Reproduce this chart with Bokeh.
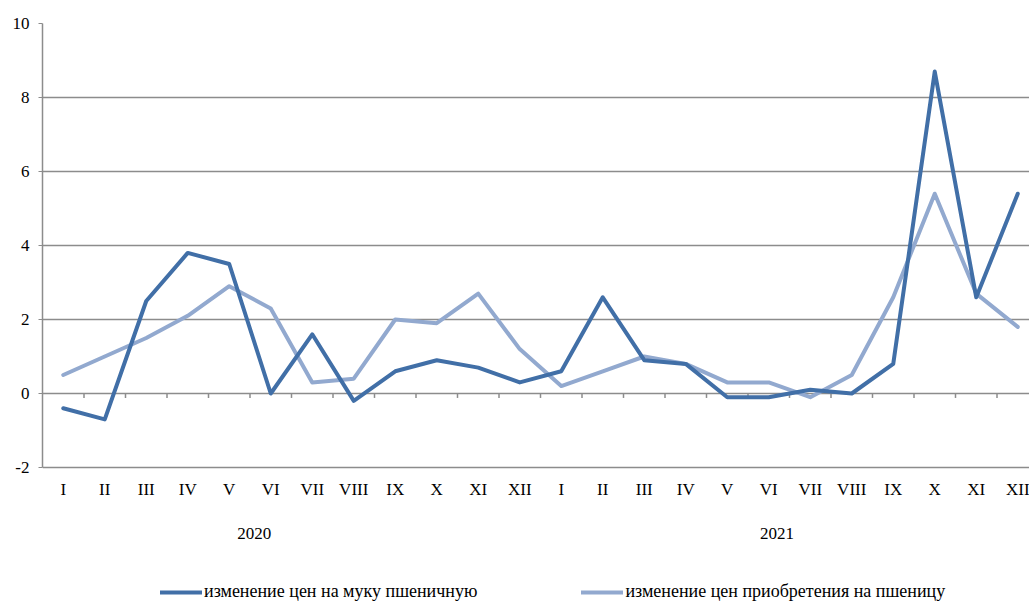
import numpy as np
from bokeh.plotting import figure
from bokeh.models import FixedTicker, Legend, LegendItem, Range1d
from bokeh.core.properties import value
from bokeh.embed import file_html
from bokeh.resources import INLINE

months = ["I", "II", "III", "IV", "V", "VI", "VII", "VIII", "IX", "X", "XI", "XII",
          "I", "II", "III", "IV", "V", "VI", "VII", "VIII", "IX", "X", "XI", "XII"]
years = ["2020", "2021"]
flour = [-0.4, -0.7, 2.5, 3.8, 3.5, 0.0, 1.6, -0.2, 0.6, 0.9, 0.7, 0.3,
         0.6, 2.6, 0.9, 0.8, -0.1, -0.1, 0.1, 0.0, 0.8, 8.7, 2.6, 5.4]
wheat = [0.5, 1.0, 1.5, 2.1, 2.9, 2.3, 0.3, 0.4, 2.0, 1.9, 2.7, 1.2,
         0.2, 0.6, 1.0, 0.8, 0.3, 0.3, -0.1, 0.5, 2.6, 5.4, 2.7, 1.8]
series_names = ["изменение цен на муку пшеничную",
                "изменение цен приобретения на пшеницу"]
y_ticks = [-2, 0, 2, 4, 6, 8, 10]

# layout constants (positions of labels, not data)
PX_PER_UNIT = 37.0
TOP = 23
H = 603
MONTH_Y = 10 - (488.5 - TOP) / PX_PER_UNIT
YEAR_Y = 10 - (532.5 - TOP) / PX_PER_UNIT
YEAR_X = [5.1, 17.7]

FONT = "Liberation Serif"
DARK = "#416FA7"
LIGHT = "#92A9CF"
GRID = "#8C8C8C"

n = len(months)
xs = np.arange(n) + 0.5

p = figure(width=1029, height=H, output_backend="svg", toolbar_location=None,
           x_range=Range1d(0, 987 / 41.5),
           y_range=Range1d(10 - (H - TOP) / PX_PER_UNIT, 10),
           min_border_left=42, min_border_right=0, min_border_top=TOP, min_border_bottom=0,
           x_axis_location=None)
p.outline_line_color = None
p.background_fill_color = "white"

# y axis
p.yaxis.ticker = FixedTicker(ticks=y_ticks)
p.yaxis.bounds = (min(y_ticks), max(y_ticks))
p.yaxis.major_label_overrides = {t: str(t) for t in y_ticks}
p.yaxis.axis_line_color = GRID
p.yaxis.axis_line_width = 1.5
p.yaxis.major_tick_line_color = GRID
p.yaxis.major_tick_out = 4
p.yaxis.major_tick_in = 0
p.yaxis.minor_tick_line_color = None
p.yaxis.major_label_text_font = FONT
p.yaxis.major_label_text_font_size = "17px"
p.yaxis.major_label_text_color = "black"
p.yaxis.major_label_standoff = 9
p.ygrid.grid_line_color = GRID
p.ygrid.grid_line_width = 1.5
p.xgrid.grid_line_color = None

# category tick marks on the zero line
bx = np.arange(1, n)
p.segment(x0=bx, y0=np.zeros_like(bx), x1=bx, y1=np.full(len(bx), -0.12),
          line_color=GRID, line_width=1.5)

# month labels and year labels
p.text(x=xs, y=np.full(n, MONTH_Y), text=months, text_font=value(FONT),
       text_font_size="17px", text_color="black", text_align="center",
       text_baseline="middle")
p.text(x=YEAR_X, y=[YEAR_Y] * len(years), text=years, text_font=value(FONT),
       text_font_size="17px", text_color="black", text_align="center",
       text_baseline="middle")

r1 = p.line(xs, flour, line_color=DARK, line_width=4, line_join="round", line_cap="round")
r2 = p.line(xs, wheat, line_color=LIGHT, line_width=4, line_join="round", line_cap="round")
p.renderers.remove(r2)
p.renderers.insert(len(p.renderers) - 1, r2)

legend = Legend(items=[LegendItem(label=series_names[0], renderers=[r1]),
                       LegendItem(label=series_names[1], renderers=[r2])],
                orientation="horizontal", location=(118, 1))
legend.label_text_font = FONT
legend.label_text_font_size = "18px"
legend.label_text_color = "black"
legend.glyph_width = 42
legend.glyph_height = 10
legend.label_standoff = 2
legend.spacing = 104
legend.border_line_color = None
legend.background_fill_alpha = 0
legend.padding = 0
legend.margin = 0
p.add_layout(legend)

open("out.html", "w").write(file_html(p, INLINE))
